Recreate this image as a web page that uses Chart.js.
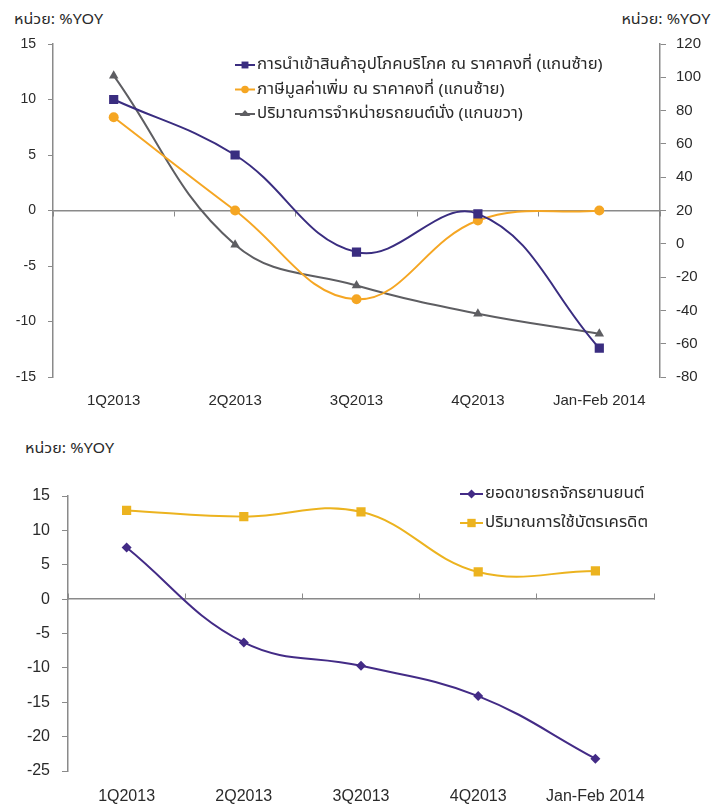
<!DOCTYPE html>
<html>
<head>
<meta charset="utf-8">
<script src="https://cdn.jsdelivr.net/npm/chart.js@4/dist/chart.umd.min.js"></script>
<style>
  html, body { margin: 0; padding: 0; background: #fff; }
  #page { position: relative; width: 712px; height: 808px; overflow: hidden; background: #fff; }
  .unit { position: absolute; font: 14px "Noto Sans Thai", Tahoma, "Liberation Sans", sans-serif; color: #2a2a2a; white-space: nowrap; line-height: 16px; transform: scaleX(1.15); }
  .unit.l { transform-origin: left center; }
  .unit.r { transform-origin: right center; }
  canvas { position: absolute; left: 0; }
</style>
</head>
<body>
<div id="page">
  <div class="unit l" style="left:14px; top:12px;">หน่วย: %YOY</div>
  <div class="unit r" style="right:2px; top:12px;">หน่วย: %YOY</div>
  <div class="unit l" style="left:25px; top:441px;">หน่วย: %YOY</div>
  <canvas id="topChart" width="712" height="420" style="top:0;"></canvas>
  <canvas id="bottomChart" width="712" height="378" style="top:430px;"></canvas>
</div>
<script>
// ---- data ----
const periods = ['1Q2013', '2Q2013', '3Q2013', '4Q2013', 'Jan-Feb 2014'];

// upper panel (left axis)
const consumerGoodsImports = [10, 5, -3.75, -0.3, -12.4];
const vatConstantPrice = [8.4, 0, -8, -0.9, 0];
// upper panel (right axis)
const passengerCarSales = [101, -0.5, -25, -42, -54];

// lower panel
const motorcycleSales = [7.5, -6.3, -9.7, -14.1, -23.2];
const creditCardSpending = [12.9, 12.0, 12.7, 3.95, 4.1];

// tick labels
const topLeftTicks = [-15, -10, -5, 0, 5, 10, 15];
const topRightTicks = [-80, -60, -40, -20, 0, 20, 40, 60, 80, 100, 120];
const bottomTicks = [-25, -20, -15, -10, -5, 0, 5, 10, 15];

// series names
const labelImports = 'การนำเข้าสินค้าอุปโภคบริโภค ณ ราคาคงที่ (แกนซ้าย)';
const labelVat = 'ภาษีมูลค่าเพิ่ม ณ ราคาคงที่ (แกนซ้าย)';
const labelCars = 'ปริมาณการจำหน่ายรถยนต์นั่ง (แกนขวา)';
const labelMotorcycles = 'ยอดขายรถจักรยานยนต์';
const labelCards = 'ปริมาณการใช้บัตรเครดิต';

// ---- shared styling ----
const NUM_FONT = '"Liberation Sans", Arial, sans-serif';
const THAI_FONT = '"Noto Sans Thai", Tahoma, "Liberation Sans", sans-serif';
const AXIS_GRAY = '#8a8a8a';
const TEXT = '#2a2a2a';

Chart.defaults.font.family = NUM_FONT;
Chart.defaults.font.size = 14;
Chart.defaults.color = TEXT;

// small legend: line sample + marker + name, one series per row
function drawMarker(ctx, style, r, x, y) {
  ctx.beginPath();
  if (style === 'rect') {
    const s = r * Math.SQRT1_2;
    ctx.rect(x - s, y - s, 2 * s, 2 * s);
  } else if (style === 'rectRot') {
    ctx.moveTo(x, y - r); ctx.lineTo(x + r, y); ctx.lineTo(x, y + r); ctx.lineTo(x - r, y); ctx.closePath();
  } else if (style === 'triangle') {
    const h = r * 1.5, w = r * 1.3;
    ctx.moveTo(x, y - h * 0.66); ctx.lineTo(x + w, y + h * 0.34); ctx.lineTo(x - w, y + h * 0.34); ctx.closePath();
  } else {
    ctx.arc(x, y, r, 0, Math.PI * 2);
  }
  ctx.fill();
}

const seriesKey = {
  id: 'seriesKey',
  afterDraw(chart, args, opts) {
    const ctx = chart.ctx;
    ctx.save();
    chart.data.datasets.forEach((ds, i) => {
      const y = opts.y + i * opts.rowGap;
      ctx.strokeStyle = ds.borderColor;
      ctx.lineWidth = ds.borderWidth;
      ctx.beginPath();
      ctx.moveTo(opts.x, y);
      ctx.lineTo(opts.x + opts.lineLen, y);
      ctx.stroke();
      ctx.fillStyle = ds.pointBackgroundColor;
      drawMarker(ctx, ds.pointStyle, opts.markerSize * (ds.pointRadius / opts.baseRadius), opts.x + opts.lineLen / 2, y);
      ctx.save();
      ctx.translate(opts.x + opts.lineLen + 2, y + 1);
      ctx.scale(opts.stretch, 1);
      ctx.fillStyle = TEXT;
      ctx.font = opts.fontSize + 'px ' + THAI_FONT;
      ctx.textBaseline = 'middle';
      ctx.textAlign = 'left';
      ctx.fillText(ds.label, 0, 0);
      ctx.restore();
    });
    ctx.restore();
  }
};

function fixedTicks(values) {
  return function (scale) {
    scale.ticks = values.map(v => ({ value: v }));
  };
}

function lineSet(label, data, color, style, radius, axis) {
  return {
    label, data,
    yAxisID: axis,
    borderColor: color,
    backgroundColor: color,
    pointBackgroundColor: color,
    pointBorderColor: color,
    pointBorderWidth: 0,
    pointStyle: style,
    pointRadius: radius,
    borderWidth: 2,
    tension: 0.4,
    fill: false
  };
}

// ---- upper panel ----
new Chart(document.getElementById('topChart'), {
  type: 'line',
  data: {
    labels: periods,
    datasets: [
      lineSet(labelImports, consumerGoodsImports, '#3a2d80', 'rect', 6.5, 'y'),
      lineSet(labelVat, vatConstantPrice, '#f5a623', 'circle', 5, 'y'),
      lineSet(labelCars, passengerCarSales, '#5e5e62', 'triangle', 5.5, 'y1')
    ]
  },
  options: {
    responsive: false,
    animation: false,
    devicePixelRatio: 1,
    layout: { padding: { top: 44, left: 0, right: 0, bottom: 0 } },
    plugins: {
      legend: { display: false },
      tooltip: { enabled: false },
      seriesKey: { x: 235, y: 65, rowGap: 24.5, lineLen: 20, fontSize: 15, stretch: 1.12, markerSize: 4.5, baseRadius: 6 }
    },
    scales: {
      x: {
        offset: true,
        grid: { display: false, drawTicks: false },
        border: { display: false },
        ticks: { padding: 15, maxRotation: 0, autoSkip: false, font: { size: 15 } },
        afterFit(s) { s.height = 43; }
      },
      xZero: {
        type: 'category',
        position: { y: 0 },
        offset: true,
        grid: { display: true, offset: true, drawOnChartArea: false, drawTicks: true, tickLength: 5, color: AXIS_GRAY, lineWidth: 1 },
        border: { display: true, color: AXIS_GRAY, width: 1.5 },
        ticks: { display: false },
        afterFit(s) { s.height = 0; }
      },
      y: {
        position: 'left',
        min: topLeftTicks[0], max: topLeftTicks[topLeftTicks.length - 1],
        afterBuildTicks: fixedTicks(topLeftTicks),
        grid: { display: true, drawOnChartArea: false, drawTicks: true, tickLength: 5, color: AXIS_GRAY },
        border: { display: true, color: AXIS_GRAY, width: 1.5 },
        ticks: { padding: 12, font: { size: 14 } },
        afterFit(s) { s.width = 53; }
      },
      y1: {
        position: 'right',
        min: topRightTicks[0], max: topRightTicks[topRightTicks.length - 1],
        afterBuildTicks: fixedTicks(topRightTicks),
        grid: { display: true, drawOnChartArea: false, drawTicks: true, tickLength: 6, color: AXIS_GRAY },
        border: { display: true, color: AXIS_GRAY, width: 1.5 },
        ticks: { padding: 10, font: { size: 15 } },
        afterFit(s) { s.width = 52; }
      }
    }
  },
  plugins: [seriesKey]
});

// ---- lower panel ----
new Chart(document.getElementById('bottomChart'), {
  type: 'line',
  data: {
    labels: periods,
    datasets: [
      lineSet(labelMotorcycles, motorcycleSales, '#432b86', 'rectRot', 5, 'y'),
      lineSet(labelCards, creditCardSpending, '#ecb31f', 'rect', 6.5, 'y')
    ]
  },
  options: {
    responsive: false,
    animation: false,
    devicePixelRatio: 1,
    layout: { padding: { top: 66, left: 0, right: 58, bottom: 0 } },
    plugins: {
      legend: { display: false },
      tooltip: { enabled: false },
      seriesKey: { x: 460, y: 64, rowGap: 29, lineLen: 23, fontSize: 15, stretch: 1.12, markerSize: 5, baseRadius: 5.5 }
    },
    scales: {
      x: {
        offset: true,
        grid: { display: false, drawTicks: false },
        border: { display: false },
        ticks: { padding: 16, maxRotation: 0, autoSkip: false, font: { size: 16 } },
        afterFit(s) { s.height = 37; }
      },
      xZero: {
        type: 'category',
        position: { y: 0 },
        offset: true,
        grid: { display: true, offset: true, drawOnChartArea: false, drawTicks: true, tickLength: -6, color: AXIS_GRAY, lineWidth: 1 },
        border: { display: true, color: AXIS_GRAY, width: 1.5 },
        ticks: { display: false },
        afterFit(s) { s.height = 0; }
      },
      y: {
        position: 'left',
        min: bottomTicks[0], max: bottomTicks[bottomTicks.length - 1],
        afterBuildTicks: fixedTicks(bottomTicks),
        grid: { display: true, drawOnChartArea: false, drawTicks: true, tickLength: 6, color: AXIS_GRAY },
        border: { display: true, color: AXIS_GRAY, width: 1.5 },
        ticks: { padding: 12, font: { size: 16 } },
        afterFit(s) { s.width = 68; }
      }
    }
  },
  plugins: [seriesKey]
});
</script>
</body>
</html>
